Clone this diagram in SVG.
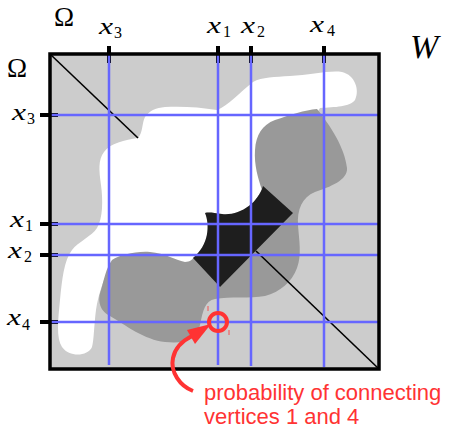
<svg xmlns="http://www.w3.org/2000/svg" width="449" height="429" viewBox="0 0 449 429">
<style>
.blue{stroke:#6666ff;stroke-width:2.5;fill:none}
.tick{stroke:#000;stroke-width:4}
</style>
<rect id="background" x="50" y="54" width="329" height="315" fill="#cccccc"/>
<g id="regions">
<path id="white-region" fill="#ffffff" d="M145,117 C150,110 156,108 165,107 C180,106 200,107 217,110 C228,106 240,92 253,82 C262,77 275,77 290,76 C310,75 330,70 342,72 C355,75 360,90 355,100 C350,107 335,107 320,108 L300,140 L280,175 L263,186 C258,203 240,216 222,214 C214,213 209,212 205,213 C210,225 209,245 193,258 L185,268 L130,270 L112,262 C105,275 98,295 96,310 C94,325 94,340 92,347 C88,356 70,358 62,347 C56,338 58,320 60,300 C62,280 64,260 72,250 C78,242 92,236 97,228 C103,218 103,200 101,185 C99,170 98,160 104,152 C110,143 125,140 138,138 C143,133 142,122 145,117 Z"/>
<path id="dark-region" fill="#999999" d="M317,109 C330,125 345,148 347,168 C348,180 330,187 315,192 C302,197 297,210 298,225 C299,240 302,255 297,268 C292,282 280,292 265,296 C250,299 230,296 215,299 C205,301 203,310 200,325 C197,340 185,344 165,342 C145,340 125,325 110,316 C98,310 98,298 101,290 C104,280 106,268 112,260 C120,255 135,251 150,252 C165,253 175,260 185,262 C190,262 193,259 195,257 L230,240 L262,190 C258,178 254,165 255,150 C256,135 262,125 275,120 C290,115 305,110 317,109 Z"/>
<path id="black-region" fill="#1e1e1e" d="M263,186 L293,213 L220,287 L193,258 C209,245 210,225 205,213 C209,212 214,213 222,214 C240,216 258,203 263,186 Z"/>
</g>
<g id="diagonal" stroke="#000" stroke-width="1.6">
<line x1="50" y1="54" x2="138" y2="138"/>
<line x1="256" y1="251" x2="379" y2="369"/>
</g>
<g id="ticks">
<line class="tick" x1="109" y1="46" x2="109" y2="63"/>
<line class="tick" x1="218" y1="46" x2="218" y2="63"/>
<line class="tick" x1="251" y1="46" x2="251" y2="63"/>
<line class="tick" x1="324" y1="46" x2="324" y2="63"/>
<line class="tick" x1="40" y1="115" x2="58" y2="115"/>
<line class="tick" x1="40" y1="224" x2="58" y2="224"/>
<line class="tick" x1="40" y1="255" x2="58" y2="255"/>
<line class="tick" x1="40" y1="322" x2="58" y2="322"/>
</g>
<g id="grid">
<line class="blue" x1="109" y1="55" x2="109" y2="365"/>
<line class="blue" x1="218" y1="55" x2="218" y2="365"/>
<line class="blue" x1="251" y1="55" x2="251" y2="366"/>
<line class="blue" x1="324" y1="55" x2="324" y2="367"/>
<line class="blue" x1="50" y1="115" x2="379" y2="115"/>
<line class="blue" x1="50" y1="224" x2="379" y2="224"/>
<line class="blue" x1="50" y1="255" x2="379" y2="255"/>
<line class="blue" x1="50" y1="322" x2="379" y2="322"/>
</g>
<rect id="frame" x="50" y="54" width="329" height="315" fill="none" stroke="#000" stroke-width="3.5"/>
<g id="labels" font-family="'Liberation Serif', 'Times New Roman', serif" fill="#000">
<text x="54" y="26" font-size="27">Ω</text>
<text x="7" y="77" font-size="27">Ω</text>
<text x="99" y="34" font-size="24" font-style="italic" textLength="14" lengthAdjust="spacingAndGlyphs">x</text><text x="114" y="38" font-size="16">3</text>
<text x="207" y="33" font-size="24" font-style="italic" textLength="14" lengthAdjust="spacingAndGlyphs">x</text><text x="223" y="37" font-size="16">1</text>
<text x="241" y="33" font-size="24" font-style="italic" textLength="14" lengthAdjust="spacingAndGlyphs">x</text><text x="257" y="37" font-size="16">2</text>
<text x="310" y="32" font-size="24" font-style="italic" textLength="14" lengthAdjust="spacingAndGlyphs">x</text><text x="327" y="36" font-size="16">4</text>
<text x="12" y="120" font-size="24" font-style="italic" textLength="14" lengthAdjust="spacingAndGlyphs">x</text><text x="27" y="124" font-size="16">3</text>
<text x="10" y="227" font-size="24" font-style="italic" textLength="14" lengthAdjust="spacingAndGlyphs">x</text><text x="25" y="231" font-size="16">1</text>
<text x="8" y="258" font-size="24" font-style="italic" textLength="14" lengthAdjust="spacingAndGlyphs">x</text><text x="24" y="262" font-size="16">2</text>
<text x="7" y="325" font-size="24" font-style="italic" textLength="14" lengthAdjust="spacingAndGlyphs">x</text><text x="22" y="330" font-size="16">4</text>
<text x="410" y="58" font-style="italic" font-size="34">W</text>
</g>
<g id="annotation">
<circle cx="218" cy="322" r="9" fill="none" stroke="#ff3333" stroke-width="4"/>
<path d="M193,391 C180,386 170,372 173,358 C175,348 182,341 192,336" fill="none" stroke="#ff3333" stroke-width="4"/>
<polygon points="211,324 187,330 195,344" fill="#ff3333"/>
<line x1="208" y1="306" x2="208" y2="311" stroke="#ff3333" stroke-width="0.8"/>
<line x1="229" y1="330" x2="229" y2="335" stroke="#ff3333" stroke-width="0.8"/>
<text x="204" y="400" font-family="'Liberation Sans', Arial, sans-serif" font-size="22" fill="#ff3333">probability of connecting</text>
<text x="204" y="424" font-family="'Liberation Sans', Arial, sans-serif" font-size="22" fill="#ff3333">vertices 1 and 4</text>
</g>
</svg>
